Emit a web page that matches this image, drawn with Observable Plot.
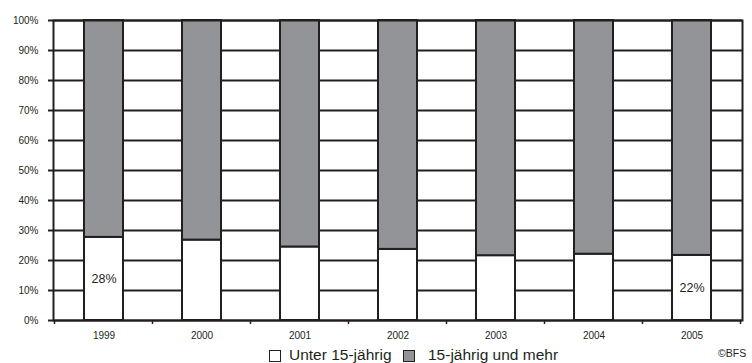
<!DOCTYPE html>
<html><head><meta charset="utf-8">
<script src="https://cdn.jsdelivr.net/npm/d3@7"></script>
<script src="https://cdn.jsdelivr.net/npm/@observablehq/plot@0.6"></script>
<style>
body{margin:0;background:#fff;font-family:"Liberation Sans",Arial,sans-serif;color:#231f20;overflow:hidden}
#wrap{position:relative;width:752px;height:363px;overflow:hidden}
.leg{position:absolute;font-size:15.5px;line-height:15px;white-space:nowrap}
.sw{position:absolute;width:10px;height:10px;border:1.5px solid #231f20}
</style></head>
<body><div id="wrap"><div id="chart"></div>
<div class="sw" style="left:269px;top:350px;background:#fff"></div>
<div class="leg" style="left:289px;top:347px">Unter 15-jährig</div>
<div class="sw" style="left:403px;top:350px;background:#929497"></div>
<div class="leg" style="left:428px;top:347px">15-jährig und mehr</div>
<div class="leg" style="left:718px;top:348px;font-size:10.5px;line-height:11px">©BFS</div>
</div>
<script>
const years = ["1999","2000","2001","2002","2003","2004","2005"];
const under15 = [27.7, 26.8, 24.5, 23.7, 21.6, 22.1, 21.7];
const labelYears = ["1999","2005"];
const labelTexts = ["28%","22%"];
const yTicks = [0,10,20,30,40,50,60,70,80,90,100];

const ink = "#231f20", gray = "#929497";
const rows = [];
years.forEach((y,i)=>{
  rows.push({year:y, group:"Unter 15-jährig", y1:0, y2:under15[i], fill:"#fff"});
  rows.push({year:y, group:"15-jährig und mehr", y1:under15[i], y2:100, fill:gray});
});
const labels = labelYears.map((y,i)=>({year:y, v:under15[years.indexOf(y)]/2, t:labelTexts[i]}));

const boundaryTicks = (index, scales, values, dim) => {
  const x = scales.x;
  const g = d3.create("svg:g");
  const bw = x.bandwidth ? x.bandwidth() : 0;
  const step = x.step ? x.step() : bw;
  const yb = dim.height - dim.marginBottom;
  for (let k = 0; k <= years.length; k++) {
    const px = (x(years[0]) - (step - bw)/2) + k*step;
    g.append("line").attr("x1",px).attr("x2",px).attr("y1",yb).attr("y2",yb+4)
      .attr("stroke",ink).attr("stroke-width",1.5);
  }
  return g.node();
};

const chart = Plot.plot({
  width: 752, height: 342,
  marginTop: 20, marginBottom: 22, marginLeft: 53, marginRight: 10,
  style: {fontFamily: "Liberation Sans, Arial, sans-serif", fontSize: "10px", color: ink, background: "#fff"},
  x: {domain: years, paddingInner: 0.6, paddingOuter: 0.3, label: null},
  y: {domain: [0,100], label: null},
  marks: [
    Plot.ruleY(yTicks, {stroke: ink, strokeWidth: 2}),
    Plot.barY(rows, {x: "year", y1: "y1", y2: "y2", fill: "fill", stroke: ink, strokeWidth: 2}),
    Plot.text(labels, {x: "year", y: "v", text: "t", fontSize: 12.5, fill: ink}),
    Plot.frame({stroke: ink, strokeWidth: 2}),
    Plot.axisY({ticks: yTicks, tickFormat: d => d + "%", tickSize: 5, tickPadding: 10, stroke: ink, strokeWidth: 2, fill: ink, fontSize: 10}),
    Plot.axisX({tickSize: 0, tickPadding: 11, fill: ink, fontSize: 10}),
    boundaryTicks
  ]
});
document.getElementById("chart").appendChild(chart);
</script></body></html>
